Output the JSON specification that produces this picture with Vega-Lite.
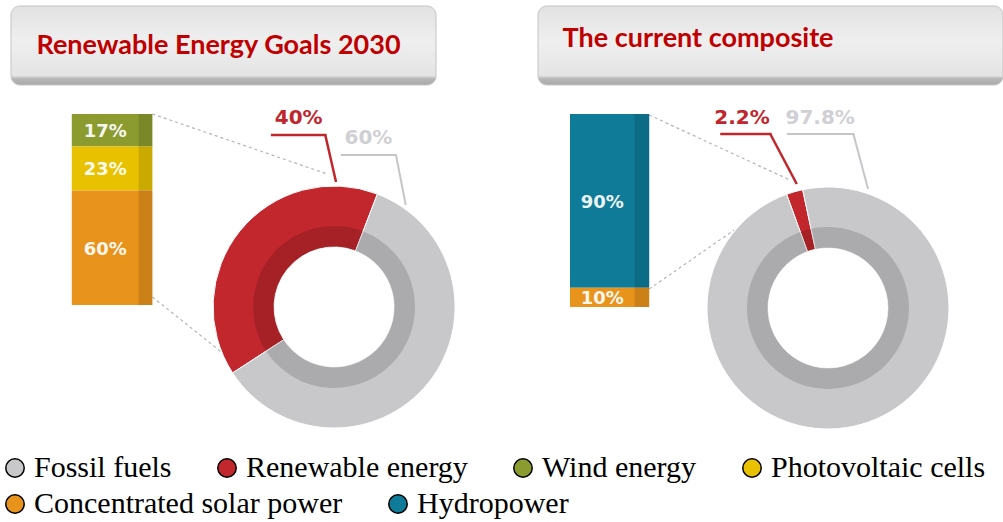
{
  "$schema": "https://vega.github.io/schema/vega-lite/v6.json",
  "padding": {"left": 0, "top": 5, "right": 0, "bottom": 0},
  "background": "white",
  "config": {
    "view": {"stroke": null},
    "concat": {"spacing": 0},
    "legend": {
      "symbolType": "circle",
      "symbolSize": 340,
      "symbolStrokeColor": "black",
      "symbolStrokeWidth": 1.5,
      "symbolOpacity": 1,
      "labelFont": "Liberation Serif",
      "labelFontSize": 30,
      "labelColor": "black",
      "labelLimit": 0,
      "columnPadding": 40,
      "labelOffset": 4
    }
  },
  "datasets": {
    "goal2030_mix": [
      {"category": "Renewable energy", "share": 0.40},
      {"category": "Fossil fuels", "share": 0.60}
    ],
    "goal2030_renewables": [
      {"category": "Wind energy", "share": 0.17},
      {"category": "Photovoltaic cells", "share": 0.23},
      {"category": "Concentrated solar power", "share": 0.60}
    ],
    "current_mix": [
      {"category": "Renewable energy", "share": 0.022},
      {"category": "Fossil fuels", "share": 0.978}
    ],
    "current_renewables": [
      {"category": "Hydropower", "share": 0.90},
      {"category": "Concentrated solar power", "share": 0.10}
    ]
  },
  "spacing": 0,
  "vconcat": [
    {
      "spacing": 0,
      "hconcat": [
        {"width": 10, "height": 79, "data": {"values": []}, "mark": "rect"},
        {
          "width": 425, "height": 79,
          "data": {"values": [{"heading": "Renewable Energy Goals 2030"}]},
          "layer": [
            {"mark": {"type": "rect", "cornerRadius": 9, "stroke": "#c4c4c4", "strokeWidth": 1,
              "fill": {"gradient": "linear", "x1": 0, "y1": 0, "x2": 0, "y2": 1,
                "stops": [{"offset": 0, "color": "#e2e2e2"}, {"offset": 0.45, "color": "#efefef"}, {"offset": 0.88, "color": "#e4e4e4"}, {"offset": 0.92, "color": "#b8b8b8"}, {"offset": 1, "color": "#a8a8a8"}]}}},
            {"mark": {"type": "text", "font": "Lato", "fontWeight": "bold", "fontSize": 27, "fill": "#c00000", "dx": -5, "baseline": "middle"},
              "encoding": {"text": {"field": "heading"}}}
          ]
        },
        {"width": 100, "height": 79, "data": {"values": []}, "mark": "rect"},
        {
          "width": 465, "height": 79,
          "data": {"values": [{"heading": "The current composite"}]},
          "layer": [
            {"mark": {"type": "rect", "cornerRadius": 9, "stroke": "#c4c4c4", "strokeWidth": 1,
              "fill": {"gradient": "linear", "x1": 0, "y1": 0, "x2": 0, "y2": 1,
                "stops": [{"offset": 0, "color": "#e2e2e2"}, {"offset": 0.45, "color": "#efefef"}, {"offset": 0.88, "color": "#e4e4e4"}, {"offset": 0.92, "color": "#b8b8b8"}, {"offset": 1, "color": "#a8a8a8"}]}}},
            {"mark": {"type": "text", "font": "Lato", "fontWeight": "bold", "fontSize": 27, "fill": "#c00000", "align": "left", "dx": -208, "dy": -7, "baseline": "middle"},
              "encoding": {"text": {"field": "heading"}}}
          ]
        }
      ]
    },
    {
      "spacing": 0,
      "hconcat": [
        {
          "width": 565, "height": 346,
          "resolve": {"scale": {"y": "independent"}},
          "layer": [
            {"data": {"values": [{}]},
              "mark": {"type": "rule", "stroke": "#b4b4b8", "strokeWidth": 1.2, "strokeDash": [3, 3]},
              "encoding": {
                "x": {"datum": -152.9, "type": "quantitative", "scale": {"domain": [-276.9, 190.1], "nice": false, "zero": false}, "axis": null},
                "y": {"datum": 159.5, "type": "quantitative", "scale": {"domain": [-103.3, 182.6], "nice": false, "zero": false}, "axis": null},
                "x2": {"datum": -5.8}, "y2": {"datum": 109.9}}},
            {"data": {"values": [{}]},
              "mark": {"type": "rule", "stroke": "#b4b4b8", "strokeWidth": 1.2, "strokeDash": [3, 3]},
              "encoding": {
                "x": {"datum": -152.9, "type": "quantitative", "scale": {"domain": [-276.9, 190.1], "nice": false, "zero": false}, "axis": null},
                "y": {"datum": 8.3, "type": "quantitative", "scale": {"domain": [-103.3, 182.6], "nice": false, "zero": false}, "axis": null},
                "x2": {"datum": -84.3}, "y2": {"datum": -45.5}}},
            {"data": {"name": "goal2030_renewables"},
              "mark": {"type": "bar", "orient": "vertical"},
              "encoding": {
                "x": {"datum": -220.7, "type": "quantitative", "scale": {"domain": [-276.9, 190.1], "nice": false, "zero": false}, "axis": null},
                "x2": {"datum": -152.9},
                "y": {"field": "share", "type": "quantitative", "stack": "zero", "scale": {"domain": [-0.665, 1.1465], "nice": false, "zero": false}, "axis": null},
                "order": {"field": "share", "sort": "descending"},
                "fill": {"field": "category", "type": "nominal", "title": null,
                  "scale": {"domain": ["Concentrated solar power", "Hydropower", "Wind energy", "Photovoltaic cells"], "range": ["#e8931b", "#0f7b98", "#8b9b30", "#e8c200"]},
                  "legend": {"orient": "none", "legendX": 0, "legendY": 483, "direction": "horizontal", "values": ["Concentrated solar power", "Hydropower"]}}}},
            {"data": {"values": [{}]},
              "mark": {"type": "rect", "fill": "black", "opacity": 0.12},
              "encoding": {
                "x": {"datum": -164.5, "type": "quantitative", "scale": {"domain": [-276.9, 190.1], "nice": false, "zero": false}, "axis": null},
                "x2": {"datum": -152.9},
                "y": {"datum": 0, "type": "quantitative", "scale": {"domain": [-0.665, 1.1465], "nice": false, "zero": false}, "axis": null},
                "y2": {"datum": 1}}},
            {"data": {"name": "goal2030_renewables"},
              "mark": {"type": "text", "font": "DejaVu Sans", "fontWeight": "bold", "fontSize": 18, "fill": "white", "opacity": 0.92, "baseline": "middle", "dy": {"expr": "datum.share * 95.5 + 2"}},
              "encoding": {
                "x": {"datum": -192.6, "type": "quantitative", "scale": {"domain": [-276.9, 190.1], "nice": false, "zero": false}, "axis": null},
                "y": {"field": "share", "type": "quantitative", "stack": "zero", "scale": {"domain": [-0.665, 1.1465], "nice": false, "zero": false}, "axis": null},
                "order": {"field": "share", "sort": "descending"},
                "detail": {"field": "category"},
                "text": {"field": "share", "type": "quantitative", "format": "~%"}}},
            {"data": {"name": "goal2030_mix"},
              "mark": {"type": "arc", "outerRadius": 121, "innerRadius": 60, "stroke": "white", "strokeWidth": 1},
              "encoding": {
                "x": {"datum": 0, "type": "quantitative", "scale": {"domain": [-276.9, 190.1], "nice": false, "zero": false}, "axis": null},
                "y": {"datum": 0, "type": "quantitative", "scale": {"domain": [-103.3, 182.6], "nice": false, "zero": false}, "axis": null},
                "theta": {"field": "share", "type": "quantitative", "stack": true, "scale": {"range": [-2.147, 4.136]}},
                "order": {"field": "share", "sort": "ascending"},
                "color": {"field": "category", "type": "nominal", "title": null,
                  "scale": {"domain": ["Fossil fuels", "Renewable energy", "Wind energy", "Photovoltaic cells"], "range": ["#c8c8ca", "#c1272d", "#8b9b30", "#e8c200"]},
                  "legend": {"orient": "none", "legendX": 0, "legendY": 447, "direction": "horizontal"}}}},
            {"data": {"name": "goal2030_mix"},
              "mark": {"type": "arc", "outerRadius": 81, "innerRadius": 60, "fill": "black", "opacity": 0.14},
              "encoding": {
                "x": {"datum": 0, "type": "quantitative", "scale": {"domain": [-276.9, 190.1], "nice": false, "zero": false}, "axis": null},
                "y": {"datum": 0, "type": "quantitative", "scale": {"domain": [-103.3, 182.6], "nice": false, "zero": false}, "axis": null},
                "theta": {"field": "share", "type": "quantitative", "stack": true, "scale": {"range": [-2.147, 4.136]}},
                "order": {"field": "share", "sort": "ascending"},
                "detail": {"field": "category"}}},
            {"data": {"values": [{}]},
              "mark": {"type": "rule", "stroke": "#c0272d", "strokeWidth": 2.5, "strokeCap": "square"},
              "encoding": {
                "x": {"datum": -52.1, "type": "quantitative", "scale": {"domain": [-276.9, 190.1], "nice": false, "zero": false}, "axis": null},
                "y": {"datum": 142.1, "type": "quantitative", "scale": {"domain": [-103.3, 182.6], "nice": false, "zero": false}, "axis": null},
                "x2": {"datum": -7.4}, "y2": {"datum": 142.1}}},
            {"data": {"values": [{}]},
              "mark": {"type": "rule", "stroke": "#c0272d", "strokeWidth": 2.5},
              "encoding": {
                "x": {"datum": -7.4, "type": "quantitative", "scale": {"domain": [-276.9, 190.1], "nice": false, "zero": false}, "axis": null},
                "y": {"datum": 142.1, "type": "quantitative", "scale": {"domain": [-103.3, 182.6], "nice": false, "zero": false}, "axis": null},
                "x2": {"datum": 1.65}, "y2": {"datum": 103.3}}},
            {"data": {"values": [{}]},
              "mark": {"type": "rule", "stroke": "#c6c6ca", "strokeWidth": 2, "strokeCap": "square"},
              "encoding": {
                "x": {"datum": 6.6, "type": "quantitative", "scale": {"domain": [-276.9, 190.1], "nice": false, "zero": false}, "axis": null},
                "y": {"datum": 125.6, "type": "quantitative", "scale": {"domain": [-103.3, 182.6], "nice": false, "zero": false}, "axis": null},
                "x2": {"datum": 52.1}, "y2": {"datum": 125.6}}},
            {"data": {"values": [{}]},
              "mark": {"type": "rule", "stroke": "#c6c6ca", "strokeWidth": 2},
              "encoding": {
                "x": {"datum": 52.1, "type": "quantitative", "scale": {"domain": [-276.9, 190.1], "nice": false, "zero": false}, "axis": null},
                "y": {"datum": 125.6, "type": "quantitative", "scale": {"domain": [-103.3, 182.6], "nice": false, "zero": false}, "axis": null},
                "x2": {"datum": 60.3}, "y2": {"datum": 84.3}}},
            {"data": {"name": "goal2030_mix"},
              "transform": [{"filter": "datum.category === 'Renewable energy'"}],
              "mark": {"type": "text", "font": "DejaVu Sans", "fontWeight": "bold", "fontSize": 20, "fill": "#c0272d", "baseline": "middle"},
              "encoding": {
                "x": {"datum": -29.8, "type": "quantitative", "scale": {"domain": [-276.9, 190.1], "nice": false, "zero": false}, "axis": null},
                "y": {"datum": 156.2, "type": "quantitative", "scale": {"domain": [-103.3, 182.6], "nice": false, "zero": false}, "axis": null},
                "text": {"field": "share", "type": "quantitative", "format": "~%"}}},
            {"data": {"name": "goal2030_mix"},
              "transform": [{"filter": "datum.category === 'Fossil fuels'"}],
              "mark": {"type": "text", "font": "DejaVu Sans", "fontWeight": "bold", "fontSize": 20, "fill": "#d0d0d4", "baseline": "middle"},
              "encoding": {
                "x": {"datum": 28.9, "type": "quantitative", "scale": {"domain": [-276.9, 190.1], "nice": false, "zero": false}, "axis": null},
                "y": {"datum": 139.7, "type": "quantitative", "scale": {"domain": [-103.3, 182.6], "nice": false, "zero": false}, "axis": null},
                "text": {"field": "share", "type": "quantitative", "format": "~%"}}}
          ]
        },
        {
          "width": 438, "height": 346,
          "resolve": {"scale": {"y": "independent"}},
          "layer": [
            {"data": {"values": [{}]},
              "mark": {"type": "rule", "stroke": "#b4b4b8", "strokeWidth": 1.2, "strokeDash": [3, 3]},
              "encoding": {
                "x": {"datum": -151.2, "type": "quantitative", "scale": {"domain": [-218.2, 143.8], "nice": false, "zero": false}, "axis": null},
                "y": {"datum": 159.5, "type": "quantitative", "scale": {"domain": [-102.5, 183.5], "nice": false, "zero": false}, "axis": null},
                "x2": {"datum": -32.2}, "y2": {"datum": 105.8}}},
            {"data": {"values": [{}]},
              "mark": {"type": "rule", "stroke": "#b4b4b8", "strokeWidth": 1.2, "strokeDash": [3, 3]},
              "encoding": {
                "x": {"datum": -151.2, "type": "quantitative", "scale": {"domain": [-218.2, 143.8], "nice": false, "zero": false}, "axis": null},
                "y": {"datum": 15.7, "type": "quantitative", "scale": {"domain": [-102.5, 183.5], "nice": false, "zero": false}, "axis": null},
                "x2": {"datum": -79.3}, "y2": {"datum": 64.5}}},
            {"data": {"name": "current_renewables"},
              "mark": {"type": "bar", "orient": "vertical"},
              "encoding": {
                "x": {"datum": -218.2, "type": "quantitative", "scale": {"domain": [-218.2, 143.8], "nice": false, "zero": false}, "axis": null},
                "x2": {"datum": -151.2},
                "y": {"field": "share", "type": "quantitative", "stack": "zero", "scale": {"domain": [-0.648, 1.145], "nice": false, "zero": false}, "axis": null},
                "order": {"field": "share", "sort": "ascending"},
                "fill": {"field": "category", "type": "nominal", "title": null,
                  "scale": {"domain": ["Concentrated solar power", "Hydropower", "Wind energy", "Photovoltaic cells"], "range": ["#e8931b", "#0f7b98", "#8b9b30", "#e8c200"]},
                  "legend": {"orient": "none", "legendX": 0, "legendY": 483, "direction": "horizontal", "values": ["Concentrated solar power", "Hydropower"]}}}},
            {"data": {"values": [{}]},
              "mark": {"type": "rect", "fill": "black", "opacity": 0.12},
              "encoding": {
                "x": {"datum": -163.6, "type": "quantitative", "scale": {"domain": [-218.2, 143.8], "nice": false, "zero": false}, "axis": null},
                "x2": {"datum": -151.2},
                "y": {"datum": 0, "type": "quantitative", "scale": {"domain": [-0.648, 1.145], "nice": false, "zero": false}, "axis": null},
                "y2": {"datum": 1}}},
            {"data": {"name": "current_renewables"},
              "mark": {"type": "text", "font": "DejaVu Sans", "fontWeight": "bold", "fontSize": 18, "fill": "white", "opacity": 0.92, "baseline": "middle", "dy": {"expr": "datum.share * 96.5 + 2"}},
              "encoding": {
                "x": {"datum": -190.9, "type": "quantitative", "scale": {"domain": [-218.2, 143.8], "nice": false, "zero": false}, "axis": null},
                "y": {"field": "share", "type": "quantitative", "stack": "zero", "scale": {"domain": [-0.648, 1.145], "nice": false, "zero": false}, "axis": null},
                "order": {"field": "share", "sort": "ascending"},
                "detail": {"field": "category"},
                "text": {"field": "share", "type": "quantitative", "format": "~%"}}},
            {"data": {"name": "current_mix"},
              "mark": {"type": "arc", "outerRadius": 121, "innerRadius": 60, "stroke": "white", "strokeWidth": 1},
              "encoding": {
                "x": {"datum": 0, "type": "quantitative", "scale": {"domain": [-218.2, 143.8], "nice": false, "zero": false}, "axis": null},
                "y": {"datum": 0, "type": "quantitative", "scale": {"domain": [-102.5, 183.5], "nice": false, "zero": false}, "axis": null},
                "theta": {"field": "share", "type": "quantitative", "stack": true, "scale": {"range": [-0.349, 5.934]}},
                "order": {"field": "share", "sort": "ascending"},
                "color": {"field": "category", "type": "nominal", "title": null,
                  "scale": {"domain": ["Fossil fuels", "Renewable energy", "Wind energy", "Photovoltaic cells"], "range": ["#c8c8ca", "#c1272d", "#8b9b30", "#e8c200"]},
                  "legend": {"orient": "none", "legendX": 0, "legendY": 447, "direction": "horizontal"}}}},
            {"data": {"name": "current_mix"},
              "mark": {"type": "arc", "outerRadius": 81, "innerRadius": 60, "fill": "black", "opacity": 0.14},
              "encoding": {
                "x": {"datum": 0, "type": "quantitative", "scale": {"domain": [-218.2, 143.8], "nice": false, "zero": false}, "axis": null},
                "y": {"datum": 0, "type": "quantitative", "scale": {"domain": [-102.5, 183.5], "nice": false, "zero": false}, "axis": null},
                "theta": {"field": "share", "type": "quantitative", "stack": true, "scale": {"range": [-0.349, 5.934]}},
                "order": {"field": "share", "sort": "ascending"},
                "detail": {"field": "category"}}},
            {"data": {"values": [{}]},
              "mark": {"type": "rule", "stroke": "#c0272d", "strokeWidth": 2.5, "strokeCap": "square"},
              "encoding": {
                "x": {"datum": -90.1, "type": "quantitative", "scale": {"domain": [-218.2, 143.8], "nice": false, "zero": false}, "axis": null},
                "y": {"datum": 143.8, "type": "quantitative", "scale": {"domain": [-102.5, 183.5], "nice": false, "zero": false}, "axis": null},
                "x2": {"datum": -48.8}, "y2": {"datum": 143.8}}},
            {"data": {"values": [{}]},
              "mark": {"type": "rule", "stroke": "#c0272d", "strokeWidth": 2.5},
              "encoding": {
                "x": {"datum": -48.8, "type": "quantitative", "scale": {"domain": [-218.2, 143.8], "nice": false, "zero": false}, "axis": null},
                "y": {"datum": 143.8, "type": "quantitative", "scale": {"domain": [-102.5, 183.5], "nice": false, "zero": false}, "axis": null},
                "x2": {"datum": -26.4}, "y2": {"datum": 102.5}}},
            {"data": {"values": [{}]},
              "mark": {"type": "rule", "stroke": "#c6c6ca", "strokeWidth": 2, "strokeCap": "square"},
              "encoding": {
                "x": {"datum": -33.9, "type": "quantitative", "scale": {"domain": [-218.2, 143.8], "nice": false, "zero": false}, "axis": null},
                "y": {"datum": 143.8, "type": "quantitative", "scale": {"domain": [-102.5, 183.5], "nice": false, "zero": false}, "axis": null},
                "x2": {"datum": 21.5}, "y2": {"datum": 143.8}}},
            {"data": {"values": [{}]},
              "mark": {"type": "rule", "stroke": "#c6c6ca", "strokeWidth": 2},
              "encoding": {
                "x": {"datum": 21.5, "type": "quantitative", "scale": {"domain": [-218.2, 143.8], "nice": false, "zero": false}, "axis": null},
                "y": {"datum": 143.8, "type": "quantitative", "scale": {"domain": [-102.5, 183.5], "nice": false, "zero": false}, "axis": null},
                "x2": {"datum": 33.9}, "y2": {"datum": 98.3}}},
            {"data": {"name": "current_mix"},
              "transform": [{"filter": "datum.category === 'Renewable energy'"}],
              "mark": {"type": "text", "font": "DejaVu Sans", "fontWeight": "bold", "fontSize": 20, "fill": "#c0272d", "baseline": "middle"},
              "encoding": {
                "x": {"datum": -72.7, "type": "quantitative", "scale": {"domain": [-218.2, 143.8], "nice": false, "zero": false}, "axis": null},
                "y": {"datum": 157.0, "type": "quantitative", "scale": {"domain": [-102.5, 183.5], "nice": false, "zero": false}, "axis": null},
                "text": {"field": "share", "type": "quantitative", "format": "~%"}}},
            {"data": {"name": "current_mix"},
              "transform": [{"filter": "datum.category === 'Fossil fuels'"}],
              "mark": {"type": "text", "font": "DejaVu Sans", "fontWeight": "bold", "fontSize": 20, "fill": "#d0d0d4", "baseline": "middle"},
              "encoding": {
                "x": {"datum": -6.6, "type": "quantitative", "scale": {"domain": [-218.2, 143.8], "nice": false, "zero": false}, "axis": null},
                "y": {"datum": 157.0, "type": "quantitative", "scale": {"domain": [-102.5, 183.5], "nice": false, "zero": false}, "axis": null},
                "text": {"field": "share", "type": "quantitative", "format": "~%"}}}
          ]
        }
      ]
    }
  ]
}
